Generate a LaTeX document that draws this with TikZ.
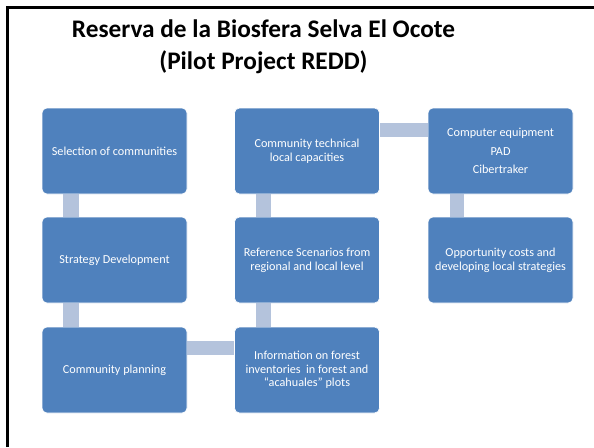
\documentclass[tikz,border=0pt]{standalone}
\usepackage{fontspec}
\setmainfont{Carlito}
\begin{document}
\begin{tikzpicture}[x=1pt,y=1pt,
  box/.style={rectangle, rounded corners=5pt, fill=boxblue, draw=white, line width=0.6pt,
    minimum width=145pt, minimum height=86pt, inner sep=2pt,
    text=white, font=\fontsize{12.2}{14}\selectfont, align=center},
  conn/.style={fill=connblue}]
\definecolor{boxblue}{HTML}{4F81BD}
\definecolor{connblue}{HTML}{B4C3DC}
\useasboundingbox (0,0) rectangle (594,-447);
\fill[white] (0,0) rectangle (594,-447);
\draw[line width=2.6pt] (7.5,-447) -- (7.5,-7.5) -- (594,-7.5);
\node[font=\fontsize{25.3}{32.5}\selectfont\bfseries, align=center] (title) at (263.5,-47)
  {Reserva de la Biosfera Selva El Ocote\\(Pilot Project REDD)};
\node[box] (sel) at (114.5,-151) {Selection of communities};
\node[box] (strat) at (114.5,-260) {Strategy Development};
\node[box] (plan) at (114.5,-370) {Community planning};
\node[box] (tech) at (307,-151) {Community technical\\local capacities};
\node[box] (ref) at (307,-260) {Reference Scenarios from\\regional and local level};
\node[box, font=\fontsize{12.2}{13.5}\selectfont] (info) at (307,-370) {Information on forest\\inventories\ \ in forest and\\``acahuales'' plots};
\node[box, font=\fontsize{12.2}{18.5}\selectfont] (comp) at (500.5,-151) {Computer equipment\\PAD\\Cibertraker};
\node[box] (opp) at (500.5,-260) {Opportunity costs and\\developing local strategies};
\fill[conn] ([xshift=21pt]sel.south west) rectangle ([xshift=37pt]strat.north west);
\fill[conn] ([xshift=21pt]strat.south west) rectangle ([xshift=37pt]plan.north west);
\fill[conn] ([xshift=22pt]tech.south west) rectangle ([xshift=37pt]ref.north west);
\fill[conn] ([xshift=22pt]ref.south west) rectangle ([xshift=37pt]info.north west);
\fill[conn] ([xshift=22pt]comp.south west) rectangle ([xshift=36pt]opp.north west);
\fill[conn] ([yshift=-15pt]tech.north east) rectangle ([yshift=-29pt]comp.north west);
\fill[conn] ([yshift=-14pt]plan.north east) rectangle ([yshift=-28pt]info.north west);
\end{tikzpicture}
\end{document}
